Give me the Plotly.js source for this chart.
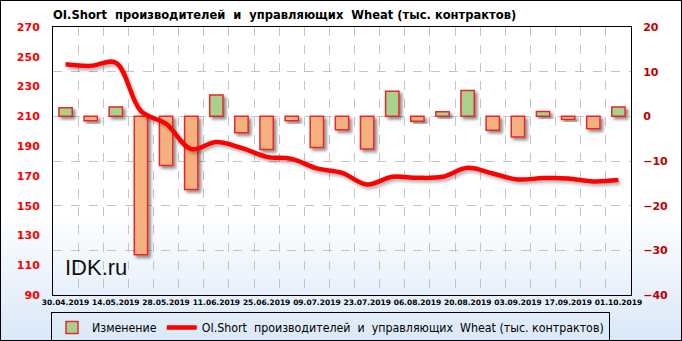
<!DOCTYPE html>
<html>
<head>
<meta charset="utf-8">
<script src="https://cdn.plot.ly/plotly-3.0.1.min.js"></script>
<style>
html, body { margin: 0; padding: 0; }
#chart {
  width: 682px; height: 341px;
  background: linear-gradient(to bottom, #ffffff 0%, #ffffff 62%, #dae8f8 100%);
  box-shadow: inset 0 0 0 1px #000;
}
</style>
</head>
<body>
<div id="chart"></div>
<script>
const dates = ['30.04.2019','07.05.2019','14.05.2019','21.05.2019','28.05.2019','04.06.2019',
  '11.06.2019','18.06.2019','25.06.2019','02.07.2019','09.07.2019','16.07.2019','23.07.2019',
  '30.07.2019','06.08.2019','13.08.2019','20.08.2019','27.08.2019','03.09.2019','10.09.2019',
  '17.09.2019','24.09.2019','01.10.2019'];
const change = [1.9, -1.0, 2.1, -31.0, -11.0, -16.4, 4.8, -3.7, -7.4, -1.0, -7.0, -3.0, -7.3,
  5.6, -1.1, 1.0, 5.8, -3.1, -4.6, 1.1, -0.7, -2.8, 2.1];
const oiShort = [245, 243.9, 246, 213.5, 205, 188, 192.8, 188.8, 182.8, 181.4, 175, 172, 164.2,
  169.4, 168.7, 169.4, 175.4, 171.6, 167.6, 168.5, 168.3, 166.3, 167.2];
const tickLabels = dates.map((d, i) => (i % 2 === 0 ? d : ''));
const seriesNames = ['Изменение', 'OI.Short\u00a0 производителей\u00a0 и\u00a0 управляющих\u00a0 Wheat (тыс. контрактов)'];
const titleText = 'OI.Short\u00a0 производителей\u00a0 и\u00a0 управляющих\u00a0 Wheat (тыс. контрактов)';

const barColors = change.map(v => (v >= 0 ? '#a9d18e' : '#f5b080'));

const traces = [
  {
    type: 'bar', x: dates, y: change, name: seriesNames[0], yaxis: 'y',
    width: 0.53,
    marker: { color: barColors, line: { color: '#e8282c', width: 1.5 } },
    hoverinfo: 'x+y'
  },
  {
    type: 'scatter', mode: 'lines', x: dates, y: oiShort, name: seriesNames[1], yaxis: 'y2',
    line: { color: '#ff0000', width: 4.5, shape: 'spline', smoothing: 1 }
  }
];

const layout = {
  width: 682, height: 341,
  margin: { l: 53, r: 51, t: 27, b: 46, pad: 0 },
  paper_bgcolor: 'rgba(0,0,0,0)', plot_bgcolor: 'rgba(0,0,0,0)',
  title: {
    text: titleText, x: 0, xref: 'paper', xanchor: 'left',
    y: 0.957, yref: 'container', yanchor: 'middle',
    font: { family: 'DejaVu Sans Condensed, sans-serif', size: 12.8, color: '#000', weight: 'bold' }
  },
  xaxis: {
    type: 'category', tickmode: 'array', tickvals: dates, ticktext: tickLabels,
    tickson: 'boundaries', ticks: '', tickangle: 0,
    showgrid: true, gridcolor: '#c4c4c4', griddash: 'dash', gridwidth: 1,
    showline: true, linecolor: '#000', linewidth: 1, mirror: true,
    tickfont: { family: 'DejaVu Sans, sans-serif', size: 7.5, color: '#000', weight: 'bold' },
    ticklabelstandoff: 0,
    range: [-0.5, 22.5], fixedrange: true, automargin: false
  },
  yaxis: {
    side: 'right', range: [-40, 20], dtick: 10, tick0: 0,
    showgrid: true, gridcolor: '#c4c4c4', griddash: 'dash', gridwidth: 1,
    zeroline: false, ticks: '', ticklabelstandoff: 9,
    showline: true, linecolor: '#000', linewidth: 1, automargin: false,
    tickfont: { family: 'DejaVu Sans, sans-serif', size: 11, color: '#c00000', weight: 'bold' }
  },
  yaxis2: {
    side: 'left', overlaying: 'y', range: [90, 270], dtick: 20, tick0: 90,
    showgrid: false, zeroline: false, ticks: '', ticklabelstandoff: 10,
    showline: true, linecolor: '#000', linewidth: 1, automargin: false,
    tickfont: { family: 'DejaVu Sans, sans-serif', size: 11, color: '#ff0000', weight: 'bold' }
  },
  showlegend: true,
  legend: {
    orientation: 'h', x: 51 / 682, xanchor: 'left', y: 1 - 312 / 341, yanchor: 'top',
    xref: 'container', yref: 'container',
    bgcolor: 'rgba(0,0,0,0)', bordercolor: '#000', borderwidth: 1,
    font: { family: 'DejaVu Sans Condensed, sans-serif', size: 12.3, color: '#000' },
    traceorder: 'normal', itemwidth: 30
  },
  annotations: [
    {
      text: 'IDK.ru', xref: 'paper', yref: 'paper', x: 0.017, y: 0.05,
      xanchor: 'left', yanchor: 'bottom', showarrow: false,
      font: { family: 'Liberation Sans, Arial, sans-serif', size: 22, color: '#111' }
    }
  ],
  bargap: 0.47
};

function addShadows(gd) {
  const svg = gd.querySelector('svg.main-svg');
  if (!svg) return;
  const ns = 'http://www.w3.org/2000/svg';
  let defs = svg.querySelector('defs');
  if (!defs) { defs = document.createElementNS(ns, 'defs'); svg.insertBefore(defs, svg.firstChild); }
  const mk = (id, dx, dy, sd, op) => {
    const f = document.createElementNS(ns, 'filter');
    f.setAttribute('id', id);
    f.setAttribute('x', '-50%'); f.setAttribute('y', '-50%');
    f.setAttribute('width', '200%'); f.setAttribute('height', '200%');
    const ds = document.createElementNS(ns, 'feDropShadow');
    ds.setAttribute('dx', dx); ds.setAttribute('dy', dy);
    ds.setAttribute('stdDeviation', sd);
    ds.setAttribute('flood-color', '#000'); ds.setAttribute('flood-opacity', op);
    f.appendChild(ds); defs.appendChild(f);
  };
  mk('dshadow', 2.5, 2.5, 1.6, 0.45);
  mk('lshadow', 2, 2.5, 1.5, 0.3);
  gd.querySelectorAll('.barlayer .point path').forEach(p => p.setAttribute('filter', 'url(#dshadow)'));
  gd.querySelectorAll('.scatterlayer .js-line').forEach(p => p.setAttribute('filter', 'url(#lshadow)'));
}

Plotly.newPlot('chart', traces, layout, { displayModeBar: false, staticPlot: true }).then(addShadows);
</script>
</body>
</html>
